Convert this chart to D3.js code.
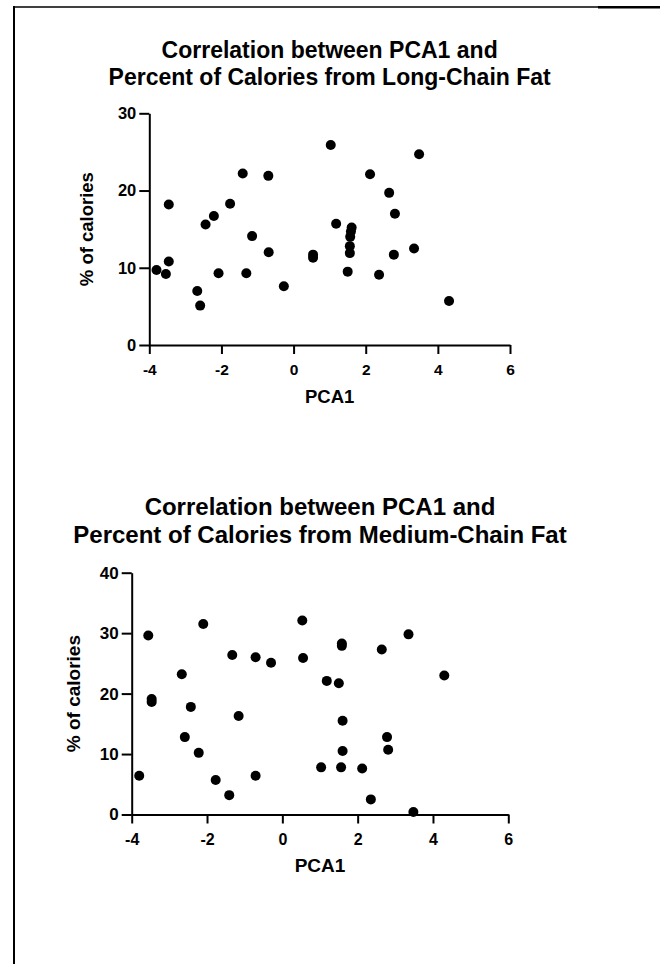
<!DOCTYPE html>
<html>
<head>
<meta charset="utf-8">
<script src="https://cdn.jsdelivr.net/npm/d3@7"></script>
<style>
  body { margin: 0; background: #fff; }
  svg text { font-family: "Liberation Sans", Arial, sans-serif; font-weight: bold; fill: #000; }
</style>
</head>
<body>
<div id="chart"></div>
<script>
// values //

var xTicks = [-4, -2, 0, 2, 4, 6];

// long-chain fat panel
var longTitle = ["Correlation between PCA1 and", "Percent of Calories from Long-Chain Fat"];
var longTicksY = [0, 10, 20, 30];
var longPCA1 = [-3.80, -3.54, -3.46, -3.46, -2.67, -2.59, -2.44, -2.21, -2.08, -1.76, -1.41, -1.31,
                -1.15, -0.70, -0.69, -0.27, 0.54, 0.54, 1.03, 1.18, 3.48, 2.12, 2.65, 2.81,
                1.61, 1.59, 1.57, 1.56, 1.56, 2.78, 3.34, 1.50, 2.37, 4.31];
var longCal = [9.7, 9.2, 10.8, 18.2, 7.0, 5.1, 15.6, 16.7, 9.3, 18.3, 22.2, 9.3,
               14.1, 21.9, 12.0, 7.6, 11.7, 11.3, 25.9, 15.7, 24.7, 22.1, 19.7, 17.0,
               15.2, 14.7, 14.0, 12.8, 11.9, 11.7, 12.5, 9.5, 9.1, 5.7];

// medium-chain fat panel
var medTitle = ["Correlation between PCA1 and", "Percent of Calories from Medium-Chain Fat"];
var medTicksY = [0, 10, 20, 30, 40];
var medPCA1 = [-3.80, -3.56, -3.47, -3.47, -2.67, -2.43, -2.59, -2.22, -2.10, -1.77, -1.33, -1.16,
               -0.71, -0.71, -0.30, 0.53, 0.55, 1.18, 1.03, -1.41, 1.58, 1.58, 2.64, 3.35,
               1.50, 4.30, 1.60, 2.78, 2.81, 1.60, 1.56, 2.12, 2.35, 3.48];
var medCal = [6.4, 29.6, 19.1, 18.6, 23.2, 17.8, 12.8, 10.2, 31.5, 5.7, 26.4, 16.3,
              26.0, 6.4, 25.1, 32.1, 25.9, 22.1, 7.8, 3.2, 28.3, 27.9, 27.3, 29.8,
              21.7, 23.0, 15.5, 12.8, 10.7, 10.5, 7.8, 7.6, 2.5, 0.4];

var width = 660;
var height = 964;

var svg = d3.select("#chart")
        .append("svg")
        .attr("width", width)
        .attr("height", height);

// frame lines round the page
svg.append("line").attr("x1", 14).attr("y1", 6).attr("x2", 14).attr("y2", height)
    .attr("stroke", "#000").attr("stroke-width", 2);
svg.append("line").attr("x1", 13).attr("y1", 7).attr("x2", 598).attr("y2", 7)
    .attr("stroke", "#000").attr("stroke-width", 1.6);
svg.append("line").attr("x1", 598).attr("y1", 7.3).attr("x2", width).attr("y2", 7.3)
    .attr("stroke", "#000").attr("stroke-width", 2.4);

// draw one scatter panel
    function makeScatter(p){
        var x = d3.scaleLinear().domain([-4, 6]).range([p.left, p.right]);
        var y = d3.scaleLinear().domain([0, d3.max(p.yTicks)]).range([p.bottom, p.top]);
        var cx = (p.left + p.right) / 2;

        var g = svg.append("g");

        // title
        p.title.forEach(function(line, i){
            g.append("text")
                .attr("x", cx)
                .attr("y", p.titleY + i * p.titleGap)
                .attr("text-anchor", "middle")
                .style("font-size", p.titleSize + "px")
                .text(line);
        });

        var xAxis = g.append("g")
                .attr("transform", "translate(0," + p.bottom + ")")
                .call(d3.axisBottom(x)
                    .tickValues(xTicks)
                    .tickSize(9)
                    .tickSizeOuter(0)
                    .tickPadding(p.xPad)
                    .tickFormat(function(d){ return String(d); }));

        var yAxis = g.append("g")
                .attr("transform", "translate(" + p.left + ",0)")
                .call(d3.axisLeft(y)
                    .tickValues(p.yTicks)
                    .tickSize(10)
                    .tickSizeOuter(0)
                    .tickPadding(3)
                    .tickFormat(function(d){ return String(d); }));

        [xAxis, yAxis].forEach(function(a, k){
            a.select(".domain").attr("stroke-width", 2).attr("stroke", "#000");
            a.selectAll(".tick line").attr("stroke-width", 2).attr("stroke", "#000");
            a.selectAll(".tick text")
                .attr("fill", "#000")
                .style("font-family", "'Liberation Sans', Arial, sans-serif")
                .style("font-weight", "bold")
                .style("font-size", (k == 0 ? p.tickFont : p.tickFont + 1) + "px");
        });

        // axis titles
        g.append("text")
            .attr("x", cx)
            .attr("y", p.xLabelY)
            .attr("text-anchor", "middle")
            .style("font-size", p.labelSize + "px")
            .text("PCA1");

        g.append("text")
            .attr("transform", "translate(" + p.yLabelX + "," + (p.top + p.bottom) / 2 + ") rotate(-90)")
            .attr("text-anchor", "middle")
            .style("font-size", p.labelSize + "px")
            .text("% of calories");

        // points
        g.selectAll("circle")
            .data(p.xs)
            .enter()
            .append("circle")
            .attr("cx", function(d){ return x(d); })
            .attr("cy", function(d, i){ return y(p.ys[i]); })
            .attr("r", 5)
            .attr("fill", "#000");
    }

makeScatter({
    title: longTitle, titleY: 58, titleGap: 27, titleSize: 23,
    xs: longPCA1, ys: longCal, yTicks: longTicksY,
    left: 149.3, right: 510, top: 113.3, bottom: 345,
    xPad: 10, tickFont: 15.5, labelSize: 18.5,
    xLabelY: 403, yLabelX: 93
});

makeScatter({
    title: medTitle, titleY: 515, titleGap: 28, titleSize: 24,
    xs: medPCA1, ys: medCal, yTicks: medTicksY,
    left: 131.7, right: 508.3, top: 572.7, bottom: 814.5,
    xPad: 10, tickFont: 16, labelSize: 19,
    xLabelY: 872, yLabelX: 80
});
</script>
</body>
</html>
